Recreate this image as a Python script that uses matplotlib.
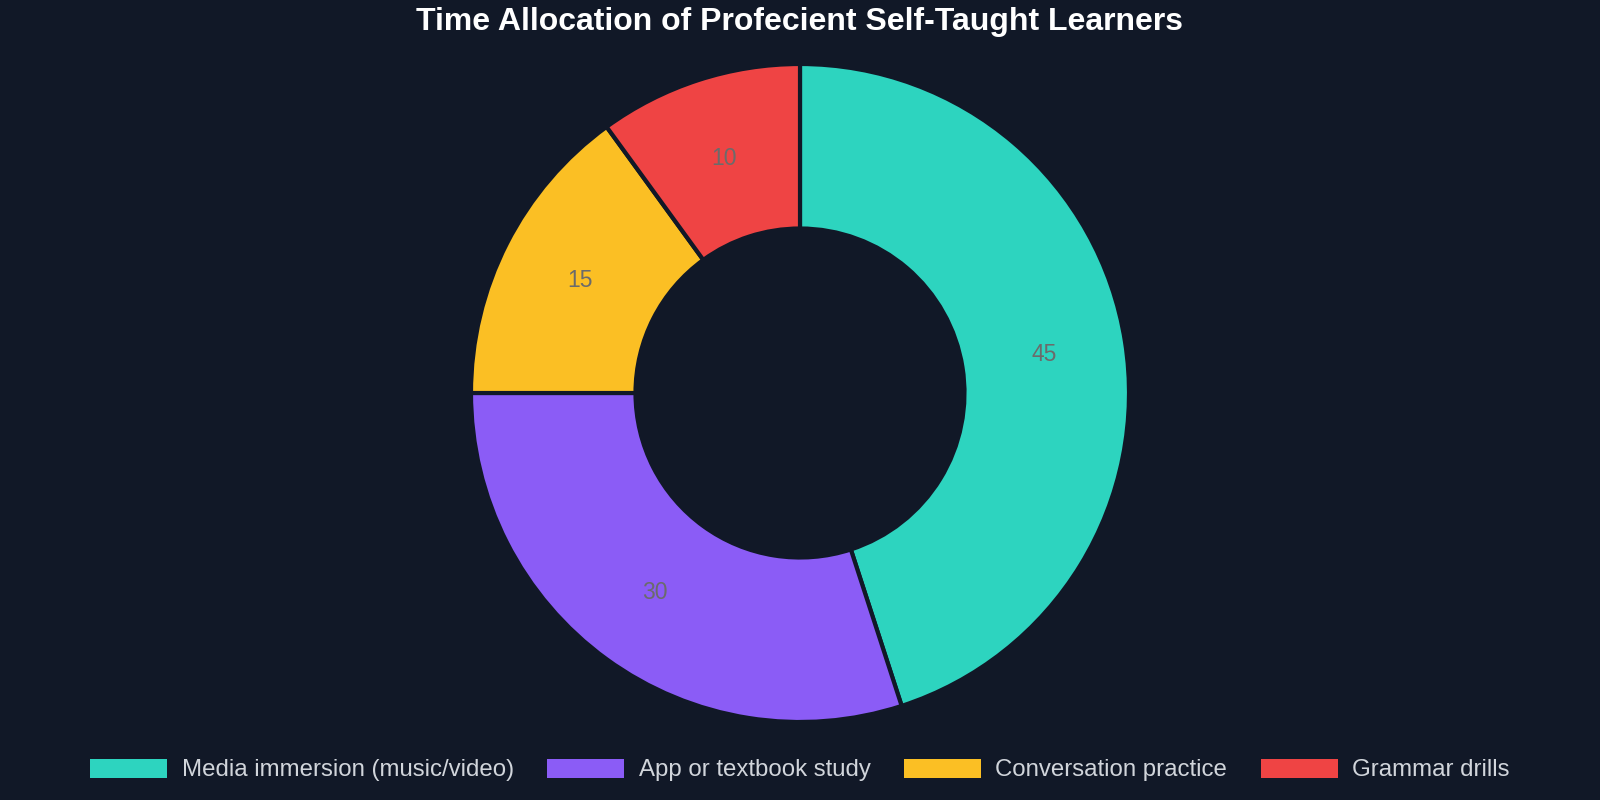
import matplotlib
matplotlib.use("Agg")
import numpy as np
import matplotlib.pyplot as plt
from matplotlib.patches import Patch

categories = ["Media immersion (music/video)", "App or textbook study",
              "Conversation practice", "Grammar drills"]
values = [45, 30, 15, 10]
colors = ["#2dd4bf", "#8b5cf6", "#fbbf24", "#ef4444"]

bg = "#111827"
plt.rcParams["font.family"] = ["Liberation Sans", "DejaVu Sans"]

fig = plt.figure(figsize=(16, 8), dpi=100, facecolor=bg)
# donut centred at (800, 393) px with radius ~329 px
ax = fig.add_axes([(800 - 329) / 1600, (800 - 393 - 329) / 800, 658 / 1600, 658 / 800])
ax.set_facecolor(bg)

ring = 0.5
wedges, _ = ax.pie(
    values, colors=colors, startangle=90, counterclock=False, radius=1,
    wedgeprops=dict(width=ring, edgecolor=bg, linewidth=3),
)
# value labels in the middle of the ring
for w, v in zip(wedges, values):
    ang = np.deg2rad((w.theta1 + w.theta2) / 2)
    r = 1 - ring / 2
    ax.text(r * np.cos(ang), r * np.sin(ang), str(v), ha="center", va="center",
            fontsize=16.5, color="#6b6b6b")
ax.set_xlim(-1, 1)
ax.set_ylim(-1, 1)
ax.set_aspect("equal")
ax.axis("off")

fig.suptitle("Time Allocation of Profecient Self-Taught Learners",
             y=1 - 22 / 800, va="center", fontsize=23, fontweight="bold", color="white")

handles = [Patch(facecolor=c, edgecolor="none") for c in colors]
fig.legend(handles, categories, loc="center", bbox_to_anchor=(0.5, 1 - 770 / 800),
           ncol=4, frameon=False, fontsize=17.3, labelcolor="#d1d5db",
           handlelength=3.2, handleheight=0.85, handletextpad=0.6, columnspacing=1.4)

fig.savefig("out.png", dpi=100, facecolor=bg)
